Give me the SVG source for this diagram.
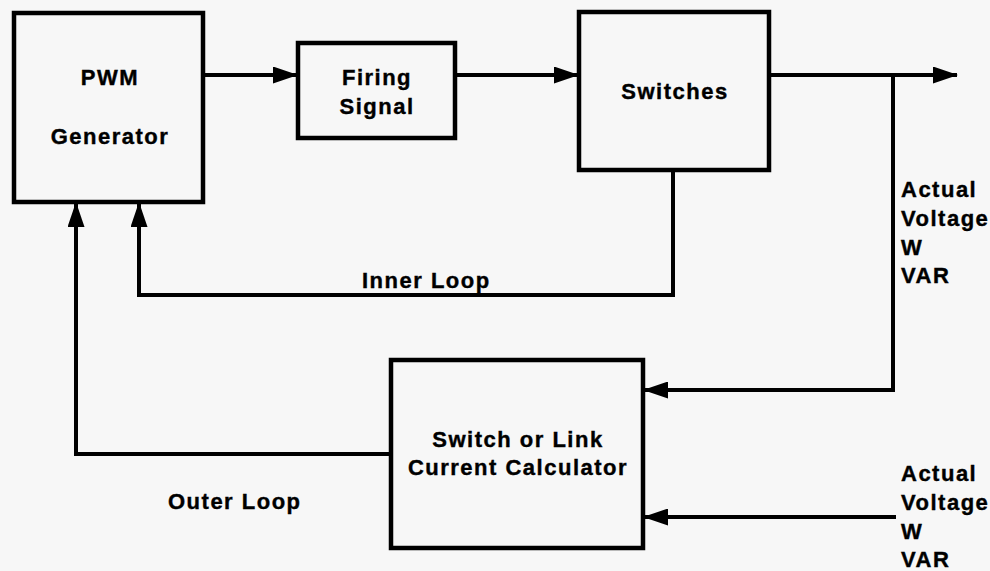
<svg xmlns="http://www.w3.org/2000/svg" width="990" height="571" viewBox="0 0 990 571">
<style>
.box{fill:none;stroke:#000;stroke-width:4.5}
.ln{fill:none;stroke:#000;stroke-width:4}
.arr{marker-end:url(#ah)}
text{font-family:"Liberation Sans",Arial,sans-serif;font-weight:bold;font-size:22px;letter-spacing:1.5px;fill:#000;stroke:#000;stroke-width:0.4}
.c{text-anchor:middle}
</style>
<defs>
<marker id="ah" markerUnits="userSpaceOnUse" markerWidth="25" markerHeight="17" refX="24" refY="8.5" orient="auto" viewBox="0 0 25 17">
<path d="M0,0 L25,8.5 L0,17 z" fill="#000"/>
</marker>
</defs>
<rect width="990" height="571" fill="#f7f7f7"/>
<g id="connectors">
<path class="ln arr" d="M204,75 L297,75"/>
<path class="ln arr" d="M455,75 L578,75"/>
<path class="ln arr" d="M769,75 L957,75"/>
<path class="ln arr" d="M893,75 L893,390 L644,390"/>
<path class="ln arr" d="M896,517 L644,517"/>
<path class="ln arr" d="M673,170 L673,295 L139,295 L139,203"/>
<path class="ln arr" d="M390,454 L76,454 L76,203"/>
</g>
<g id="pwm">
<rect class="box" x="14" y="13" width="189" height="189"/>
<text class="c" x="110" y="85">PWM</text>
<text class="c" x="110" y="144">Generator</text>
</g>
<g id="firing">
<rect class="box" x="298" y="43" width="157" height="95"/>
<text class="c" x="377" y="85">Firing</text>
<text class="c" x="377" y="114">Signal</text>
</g>
<g id="switches">
<rect class="box" x="579" y="12" width="190" height="158"/>
<text class="c" x="675" y="99">Switches</text>
</g>
<g id="calculator">
<rect class="box" x="391" y="360" width="252" height="188"/>
<text class="c" x="518" y="447">Switch or Link</text>
<text class="c" x="518" y="475">Current Calculator</text>
</g>
<g id="labels">
<text x="362" y="288">Inner Loop</text>
<text x="168" y="509">Outer Loop</text>
<text x="901" y="197">Actual</text>
<text x="901" y="226">Voltage</text>
<text x="901" y="255">W</text>
<text x="901" y="283">VAR</text>
<text x="901" y="481">Actual</text>
<text x="901" y="510">Voltage</text>
<text x="901" y="539">W</text>
<text x="901" y="567">VAR</text>
</g>
</svg>
